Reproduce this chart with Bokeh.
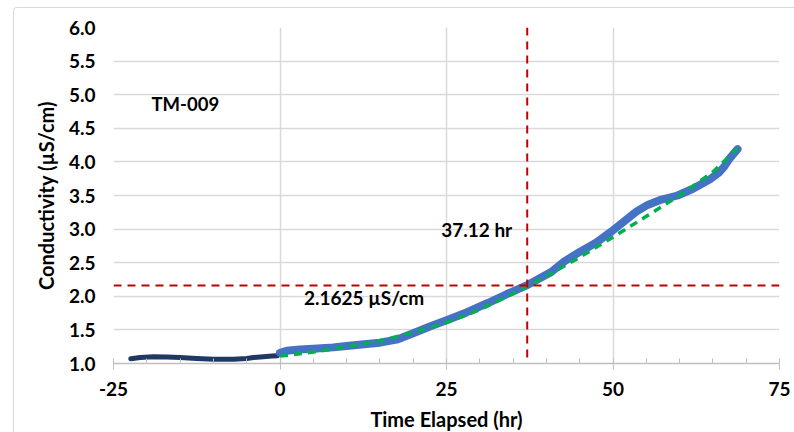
from bokeh.plotting import figure
from bokeh.models import Span, Label, FixedTicker, SingleIntervalTicker, NumeralTickFormatter, Range1d
from bokeh.embed import file_html
from bokeh.resources import INLINE

# pre-test baseline (dark navy)
pre_x = [-22.4, -21, -19, -17, -15, -12.5, -10, -7, -5, -4, -2.5, -1.2, -0.4]
pre_y = [1.07, 1.09, 1.10, 1.095, 1.09, 1.075, 1.065, 1.065, 1.075, 1.09, 1.10, 1.11, 1.115]

# measured conductivity (blue)
meas_x = [0, 1, 3, 5, 8, 10, 13, 15, 17.7, 20, 22.5, 25.2, 28, 31.2, 34, 37.2, 39, 40.7,
          42.7, 45, 47.5, 49.7, 52, 53.5, 55.2, 57, 59.7, 62, 64.7, 66, 66.7, 67.5, 68.7]
meas_y = [1.16, 1.19, 1.21, 1.22, 1.24, 1.26, 1.29, 1.31, 1.36, 1.45, 1.55, 1.65, 1.76, 1.90,
          2.03, 2.17, 2.27, 2.36, 2.52, 2.66, 2.80, 2.96, 3.14, 3.26, 3.36, 3.43, 3.50, 3.60,
          3.75, 3.85, 3.93, 4.05, 4.19]

# fitted trend (green dashed)
fit_x = [0, 5, 10, 15, 20, 25, 30, 35, 40, 45, 50, 55, 60, 65, 68.7]
fit_y = [1.11, 1.17, 1.25, 1.34, 1.46, 1.61, 1.80, 2.04, 2.30, 2.58, 2.88, 3.19, 3.50, 3.85, 4.20]

threshold_y = 2.1625
threshold_x = 37.12

x_ticks = [-25, 0, 25, 50, 75]
x_tick_labels = ["-25", "0", "25", "50", "75"]
y_ticks = [1.0, 1.5, 2.0, 2.5, 3.0, 3.5, 4.0, 4.5, 5.0, 5.5, 6.0]

FONT = "Lato"
GRID = "#D9D9D9"

p = figure(width=781, height=425, output_backend="svg", toolbar_location=None,
           x_range=Range1d(-25, 75), y_range=Range1d(1.0, 6.0),
           min_border_left=99, min_border_right=16, min_border_top=19, min_border_bottom=67,
           margin=(7, 0, 0, 13))
p.styles = {"border-top": "1px solid #D9D9D9", "border-left": "1px solid #D9D9D9",
            "border-top-left-radius": "4px"}
p.outline_line_color = None
p.background_fill_color = "white"
p.border_fill_color = "white"

p.xaxis.ticker = SingleIntervalTicker(interval=25, num_minor_ticks=5)
p.xaxis.major_label_overrides = {t: s for t, s in zip(x_ticks, x_tick_labels)}
p.yaxis.ticker = FixedTicker(ticks=y_ticks)
p.yaxis.formatter = NumeralTickFormatter(format="0.0")
p.xgrid.ticker = FixedTicker(ticks=x_ticks)
p.xgrid.grid_line_color = GRID
p.ygrid.grid_line_color = GRID
p.xgrid.grid_line_width = 1.5
p.ygrid.grid_line_width = 1.5

for ax in (p.xaxis, p.yaxis):
    ax.major_label_text_font = FONT
    ax.major_label_text_font_style = "bold"
    ax.major_label_text_font_size = "19px"
    ax.major_label_text_color = "#000000"
    ax.axis_label_text_font = FONT
    ax.axis_label_text_font_style = "bold"
    ax.axis_label_text_font_size = "20px"
    ax.axis_label_text_color = "#000000"

p.xaxis.axis_line_color = "#BFBFBF"
p.xaxis.axis_line_width = 1.5
p.xaxis.major_tick_line_color = "#BFBFBF"
p.xaxis.minor_tick_line_color = "#BFBFBF"
p.xaxis.major_tick_in = 0
p.xaxis.major_tick_out = 6
p.xaxis.minor_tick_in = 5
p.xaxis.minor_tick_out = 0
p.xaxis.major_label_standoff = 12
p.xaxis.axis_label = "Time Elapsed (hr)"
p.xaxis.axis_label_standoff = 8

p.yaxis.axis_line_color = None
p.yaxis.major_tick_line_color = None
p.yaxis.minor_tick_line_color = None
p.yaxis.major_tick_out = 0
p.yaxis.major_label_standoff = 18
p.yaxis.axis_label = "Conductivity (µS/cm)"
p.yaxis.axis_label_standoff = 8

# threshold lines
p.add_layout(Span(location=threshold_y, dimension="width", line_color="#C00000",
                  line_width=2, line_dash="8 6"))
p.add_layout(Span(location=threshold_x, dimension="height", line_color="#C00000",
                  line_width=2, line_dash="8 6"))

# series
p.line(pre_x, pre_y, line_color="#203864", line_width=5, line_cap="round", line_join="round")
p.line(meas_x, meas_y, line_color="#4472C4", line_width=8, line_cap="round", line_join="round")
p.line(fit_x, fit_y, line_color="#00B050", line_width=3.5, line_dash="8 6")

# labels
p.add_layout(Label(x=-19.3, y=4.86, text="TM-009", text_font=FONT, text_font_style="bold",
                   text_font_size="18.5px", text_baseline="middle", text_align="left",
                   text_color="#000000"))
p.add_layout(Label(x=24.2, y=3.0, text="37.12 hr", text_font=FONT, text_font_style="bold",
                   text_font_size="19px", text_baseline="middle", text_align="left",
                   text_color="#000000"))
p.add_layout(Label(x=3.6, y=1.98, text="2.1625 µS/cm", text_font=FONT, text_font_style="bold",
                   text_font_size="19px", text_baseline="middle", text_align="left",
                   text_color="#000000"))

open("out.html", "w").write(file_html(p, INLINE))
